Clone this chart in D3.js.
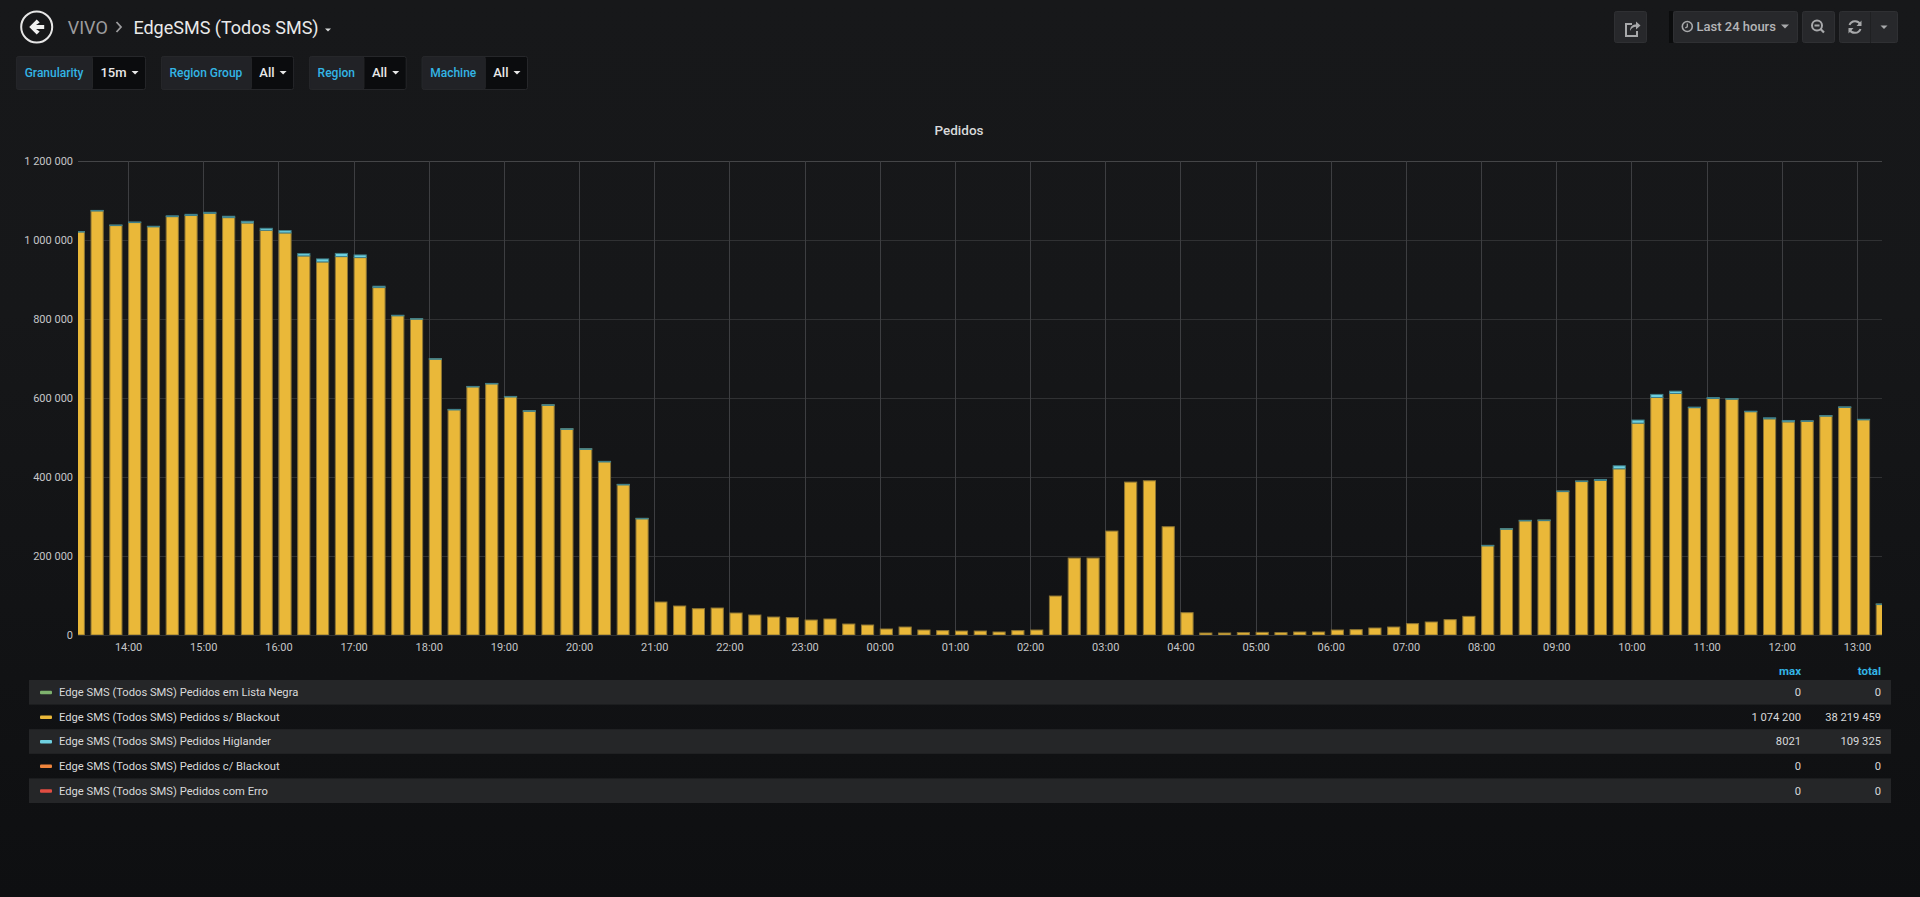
<!DOCTYPE html>
<html>
<head>
<meta charset="utf-8">
<script src="https://d3js.org/d3.v7.min.js"></script>
<style>
  html, body { margin: 0; padding: 0; }
  body { width: 1920px; height: 897px; overflow: hidden; background: #161719; }
  text { font-family: Roboto, "Helvetica Neue", Arial, sans-serif; }
  .axis-label { font-size: 11px; fill: #c5c6c8; }
  .legend-text { font-size: 11.2px; fill: #d8d9da; }
  .legend-head { font-size: 11.5px; font-weight: 700; fill: #33b5e5; }
  .sub-label { font-size: 12px; font-weight: 500; fill: #33b5e5; }
  .sub-value { font-size: 13px; font-weight: 500; fill: #e8e8e8; }
</style>
</head>
<body>
<div id="dash"></div>
<script>
// ---- data ----
const breadcrumb = "VIVO";
const dashTitle = "EdgeSMS (Todos SMS)";
const panelTitle = "Pedidos";
const timeRangeLabel = "Last 24 hours";

const variableLabels = ["Granularity", "Region Group", "Region", "Machine"];
const variableValues = ["15m", "All", "All", "All"];

const seriesNames = [
  "Edge SMS (Todos SMS) Pedidos em Lista Negra",
  "Edge SMS (Todos SMS) Pedidos s/ Blackout",
  "Edge SMS (Todos SMS) Pedidos Higlander",
  "Edge SMS (Todos SMS) Pedidos c/ Blackout",
  "Edge SMS (Todos SMS) Pedidos com Erro"
];
const seriesColors = ["#7EB26D", "#EAB839", "#6ED0E0", "#EF843C", "#E24D42"];
const legendMax = ["0", "1 074 200", "8021", "0", "0"];
const legendTotal = ["0", "38 219 459", "109 325", "0", "0"];

const yTicks = [0, 200000, 400000, 600000, 800000, 1000000, 1200000];

// 15 minute buckets, 13:15 -> 13:15 next day
const firstBucket = new Date(2019, 4, 20, 13, 15);
const lastBucket = new Date(2019, 4, 21, 13, 15);
const timeFrom = new Date(2019, 4, 20, 13, 20);
const timeTo = new Date(2019, 4, 21, 13, 20);

const pedidosSemBlackout = [
  1021000, 1074200, 1037300, 1044800, 1033900, 1059200, 1062000, 1067600, 1056700, 1043200,
  1024600, 1017900, 959700, 944500, 958000, 955500, 879600, 808700, 800300, 699100,
  570900, 629100, 636700, 603800, 567500, 582700, 522000, 471400, 439400, 381200,
  295200, 83500, 73400, 66600, 68300, 55700, 50600, 45500, 43900, 37900,
  40500, 27800, 25300, 15200, 20200, 12600, 11000, 10100, 10100, 7600,
  11000, 12600, 98700, 194800, 194800, 263100, 387100, 390400, 274100, 56500,
  5000, 5000, 5900, 6700, 5900, 7600, 7600, 12600, 13500, 17700,
  20200, 28700, 32900, 38800, 47200, 226800, 269000, 290100, 290900, 364300,
  389600, 391300, 420800, 536300, 601300, 611400, 576000, 598700, 597000, 565800,
  547300, 539700, 541400, 554900, 576800, 545600, 78400
];
const pedidosHiglander = [
  500, 700, 700, 800, 900, 2000, 3000, 2500, 3400, 4200,
  5000, 5900, 5900, 7600, 8021, 6700, 3400, 800, 600, 400,
  300, 200, 200, 200, 200, 100, 100, 100, 100, 100,
  100, 0, 0, 0, 0, 0, 0, 0, 0, 0,
  0, 0, 0, 0, 0, 0, 0, 0, 0, 0,
  0, 0, 0, 0, 0, 0, 0, 0, 0, 0,
  0, 0, 0, 0, 0, 0, 0, 0, 0, 0,
  0, 0, 0, 0, 0, 100, 100, 100, 100, 200,
  300, 2500, 7600, 7900, 7800, 5900, 900, 2500, 1700, 800,
  2500, 3400, 900, 600, 700, 500, 100
];

// ---- layout ----
const W = 1920, H = 897;
const plot = {left: 78, right: 1882, top: 161, bottom: 635};

const svg = d3.select("#dash").append("svg")
  .attr("width", W).attr("height", H);

const defs = svg.append("defs");
const bg = defs.append("linearGradient").attr("id", "bg")
  .attr("x1", 0).attr("y1", 0).attr("x2", 0).attr("y2", 1);
bg.append("stop").attr("offset", "0%").attr("stop-color", "#17181a");
bg.append("stop").attr("offset", "35%").attr("stop-color", "#161719");
bg.append("stop").attr("offset", "100%").attr("stop-color", "#0e0f11");
svg.append("rect").attr("width", W).attr("height", H).attr("fill", "url(#bg)");

defs.append("clipPath").attr("id", "plotClip")
  .append("rect")
  .attr("x", plot.left).attr("y", plot.top - 2)
  .attr("width", plot.right - plot.left).attr("height", plot.bottom - plot.top + 2);

// ---- header ----
const header = svg.append("g");
const back = header.append("g").attr("transform", "translate(36.7,27)");
back.append("circle").attr("r", 15.5).attr("fill", "none")
  .attr("stroke", "#e6e6e6").attr("stroke-width", 2);
back.append("path")
  .attr("d", "M-7.5,0 L0,-7.5 L3,-4.6 L-0.7,-1.9 L7.5,-1.9 L7.5,1.9 L-0.7,1.9 L3,4.6 L0,7.5 Z")
  .attr("fill", "#f0f0f0");

header.append("text").attr("x", 67.7).attr("y", 33.5)
  .attr("font-size", 18).attr("fill", "#9c9c9e")
  .text(breadcrumb);
header.append("path").attr("d", "M116.5,22 L121,27 L116.5,32")
  .attr("fill", "none").attr("stroke", "#9c9c9e").attr("stroke-width", 1.8);
header.append("text").attr("x", 133.4).attr("y", 33.5)
  .attr("font-size", 18).attr("fill", "#e9e9e9")
  .text(dashTitle);
header.append("path").attr("d", "M325,28.5 L331,28.5 L328,31.5 Z").attr("fill", "#d8d9da");

// submenu variables
let vx = 16.2;
variableLabels.forEach((lab, i) => {
  const g = svg.append("g");
  const lt = g.append("text").attr("class", "sub-label").attr("y", 77).text(lab);
  const lw = lt.node().getComputedTextLength();
  const vt = g.append("text").attr("class", "sub-value").attr("y", 77).text(variableValues[i]);
  const vw = vt.node().getComputedTextLength();
  const labelW = lw + 17, valueW = vw + 28;
  g.insert("rect", "text").attr("x", vx + 0.5).attr("y", 56.5)
    .attr("width", labelW + valueW - 1).attr("height", 33).attr("rx", 2)
    .attr("fill", "#0b0c0e").attr("stroke", "#26272a");
  g.insert("rect", "text").attr("x", vx + 0.5).attr("y", 56.5)
    .attr("width", labelW).attr("height", 33).attr("rx", 2)
    .attr("fill", "#212226").attr("stroke", "#26272a");
  lt.attr("x", vx + 8.5);
  vt.attr("x", vx + labelW + 8.5);
  const cx = vx + labelW + 8.5 + vw + 8.5;
  g.append("path").attr("d", `M${cx - 3.5},71 L${cx + 3.5},71 L${cx},74.5 Z`).attr("fill", "#e8e8e8");
  vx += labelW + valueW + 15;
});

// right side buttons
const btn = (x, w) => svg.append("rect").attr("x", x + 0.5).attr("y", 11.5)
  .attr("width", w).attr("height", 31).attr("rx", 2)
  .attr("fill", "#27282b").attr("stroke", "#2f3033");
btn(1614, 32);
svg.append("rect").attr("x", 1669).attr("y", 11).attr("width", 4).attr("height", 32).attr("fill", "#0b0c0d");
btn(1673, 124);
btn(1802, 32);
btn(1839, 58);
svg.append("line").attr("x1", 1870.5).attr("x2", 1870.5).attr("y1", 12).attr("y2", 43).attr("stroke", "#1f2022");

// share icon
svg.append("path")
  .attr("d", "M1632,24 L1626,24 L1626,36 L1637,36 L1637,31")
  .attr("fill", "none").attr("stroke", "#a8a9ab").attr("stroke-width", 2);
svg.append("path")
  .attr("d", "M1630,31 C1630,26 1633,24.5 1636,24.5 L1636,21.5 L1640.5,25.5 L1636,29.5 L1636,26.8 C1633.5,26.8 1631.5,28 1630,31 Z")
  .attr("fill", "#a8a9ab");
// clock + label
svg.append("circle").attr("cx", 1687.3).attr("cy", 26.5).attr("r", 5)
  .attr("fill", "none").attr("stroke", "#a8a9ab").attr("stroke-width", 1.6);
svg.append("path").attr("d", "M1687.3,23.5 L1687.3,26.8 L1685.3,27.8")
  .attr("fill", "none").attr("stroke", "#a8a9ab").attr("stroke-width", 1.3);
svg.append("text").attr("x", 1696.5).attr("y", 31).attr("font-size", 13)
  .attr("font-weight", 500).attr("fill", "#b4b5b7").text(timeRangeLabel);
svg.append("path").attr("d", "M1781,24.5 L1789,24.5 L1785,28.5 Z").attr("fill", "#a8a9ab");
// zoom out
svg.append("circle").attr("cx", 1817).attr("cy", 25.5).attr("r", 5)
  .attr("fill", "none").attr("stroke", "#a8a9ab").attr("stroke-width", 2);
svg.append("path").attr("d", "M1814.5,25.5 L1819.5,25.5 M1820.5,29 L1824,32.5")
  .attr("fill", "none").attr("stroke", "#a8a9ab").attr("stroke-width", 2.2);
// refresh
svg.append("path").attr("d", "M1849.5,25 A6,6 0 0 1 1860.5,24.5 M1860.5,29 A6,6 0 0 1 1849.5,29.5")
  .attr("fill", "none").attr("stroke", "#a8a9ab").attr("stroke-width", 2);
svg.append("path").attr("d", "M1861.5,20.5 L1861.5,26 L1856.5,26 Z M1848.5,33.5 L1848.5,28 L1853.5,28 Z").attr("fill", "#a8a9ab");
svg.append("path").attr("d", "M1880.5,25.5 L1887.5,25.5 L1884,29 Z").attr("fill", "#a8a9ab");

// ---- panel ----
svg.append("text").attr("x", 959).attr("y", 134.5).attr("text-anchor", "middle")
  .attr("font-size", 13.5).attr("font-weight", 500).attr("fill", "#d8d9da")
  .text(panelTitle);

const x = d3.scaleTime().domain([timeFrom, timeTo]).range([plot.left, plot.right]);
const y = d3.scaleLinear().domain([0, 1200000]).range([plot.bottom, plot.top]);

const fmtY = d3.formatLocale({decimal: ",", thousands: " ", grouping: [3], currency: ["", ""]}).format(",d");
const hourTicks = x.ticks(d3.timeHour.every(1));

// grid
const grid = svg.append("g");
grid.selectAll("line.h").data(yTicks).join("line")
  .attr("x1", plot.left).attr("x2", plot.right)
  .attr("y1", d => Math.round(y(d)) + 0.5).attr("y2", d => Math.round(y(d)) + 0.5)
  .attr("stroke", d => d === 1200000 ? "#444547" : "#303133");
grid.selectAll("line.v").data(hourTicks).join("line")
  .attr("y1", plot.top).attr("y2", plot.bottom)
  .attr("x1", d => Math.round(x(d)) + 0.5).attr("x2", d => Math.round(x(d)) + 0.5)
  .attr("stroke", "#3d3e41");

// axes (labels only, Grafana style)
const yAxis = svg.append("g").attr("transform", `translate(${plot.left - 5},0)`)
  .call(d3.axisLeft(y).tickValues(yTicks).tickSize(0).tickPadding(0).tickFormat(fmtY));
yAxis.select(".domain").remove();
yAxis.selectAll("text").attr("class", "axis-label").attr("font-family", null).attr("font-size", null).attr("fill", null);

const xAxis = svg.append("g").attr("transform", `translate(0,${plot.bottom})`)
  .call(d3.axisBottom(x).tickValues(hourTicks).tickSize(0).tickPadding(8).tickFormat(d3.timeFormat("%H:%M")));
xAxis.select(".domain").remove();
xAxis.selectAll("text").attr("class", "axis-label").attr("font-family", null).attr("font-size", null).attr("fill", null);

// stacked bars
const buckets = d3.timeMinute.every(15).range(firstBucket, d3.timeMinute.offset(lastBucket, 1));
const rows = buckets.map((t, i) => ({t, semBlackout: pedidosSemBlackout[i], higlander: pedidosHiglander[i]}));
const stacked = d3.stack().keys(["semBlackout", "higlander"])(rows);
const stackColors = {semBlackout: ["#EAB839", "#8d7533"], higlander: ["#6ED0E0", "#3f7f89"]};
const barEnd = t => d3.timeSecond.offset(t, 630); // 70% of the 15 min interval

const bars = svg.append("g").attr("clip-path", "url(#plotClip)");
stacked.forEach(layer => {
  bars.append("g").selectAll("rect")
    .data(layer.filter(d => d[1] - d[0] > 0))
    .join("rect")
    .attr("x", d => x(d.data.t) + 0.5)
    .attr("width", d => x(barEnd(d.data.t)) - x(d.data.t) - 1)
    .attr("y", d => y(d[1]))
    .attr("height", d => Math.max(0.6, y(d[0]) - y(d[1])))
    .attr("fill", stackColors[layer.key][0])
    .attr("stroke", stackColors[layer.key][1])
    .attr("stroke-width", 1);
});

// ---- legend table ----
const rowTop = 680, rowH = 24.6;
svg.append("text").attr("class", "legend-head").attr("x", 1801).attr("y", 675)
  .attr("text-anchor", "end").text("max");
svg.append("text").attr("class", "legend-head").attr("x", 1881).attr("y", 675)
  .attr("text-anchor", "end").text("total");

const legend = svg.append("g").selectAll("g").data(seriesNames).join("g")
  .attr("transform", (d, i) => `translate(0,${rowTop + i * rowH})`);
legend.append("rect").attr("x", 29).attr("width", 1862).attr("height", rowH)
  .attr("fill", (d, i) => i % 2 === 0 ? "#252628" : "none");
legend.append("rect").attr("x", 40).attr("y", rowH / 2 - 1.5).attr("width", 12).attr("height", 3.5)
  .attr("rx", 1).attr("fill", (d, i) => seriesColors[i]);
legend.append("text").attr("class", "legend-text").attr("x", 59).attr("y", rowH / 2 + 4).text(d => d);
legend.append("text").attr("class", "legend-text").attr("x", 1801).attr("y", rowH / 2 + 4)
  .attr("text-anchor", "end").text((d, i) => legendMax[i]);
legend.append("text").attr("class", "legend-text").attr("x", 1881).attr("y", rowH / 2 + 4)
  .attr("text-anchor", "end").text((d, i) => legendTotal[i]);
</script>
</body>
</html>
